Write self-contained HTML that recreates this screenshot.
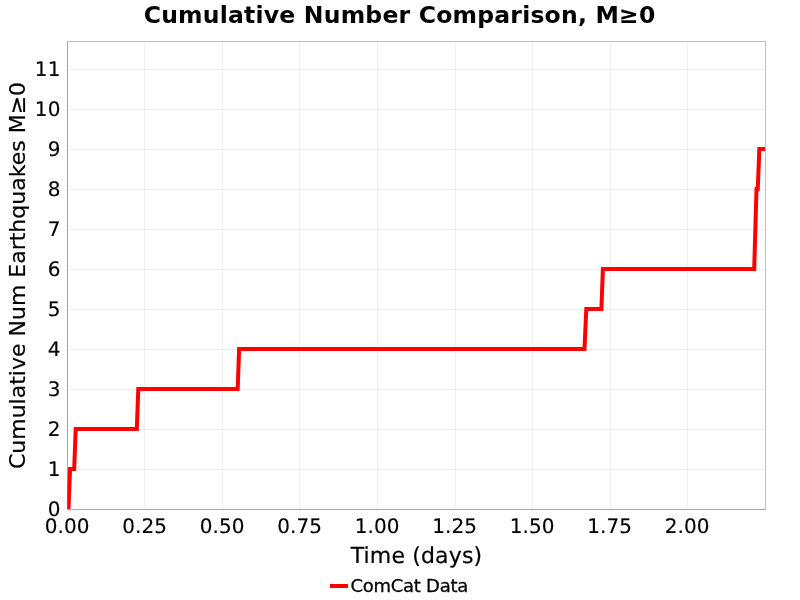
<!DOCTYPE html>
<html><head><meta charset="utf-8"><title>Cumulative Number Comparison</title>
<style>
html,body{margin:0;padding:0;background:#fff;}
body{width:800px;height:600px;overflow:hidden;font-family:"DejaVu Sans","Liberation Sans",sans-serif;}
svg{display:block;}
text{font-family:"DejaVu Sans","Liberation Sans",sans-serif;fill:#000;}
</style></head><body>
<svg width="800" height="600" viewBox="0 0 800 600">
<rect width="800" height="600" fill="#fff"/>
<defs><clipPath id="c"><rect x="67" y="41" width="698" height="468"/></clipPath></defs>
<g fill="#efefef" shape-rendering="crispEdges">
<rect x="144" y="42" width="1" height="467"/>
<rect x="222" y="42" width="1" height="467"/>
<rect x="299" y="42" width="1" height="467"/>
<rect x="377" y="42" width="1" height="467"/>
<rect x="455" y="42" width="1" height="467"/>
<rect x="532" y="42" width="1" height="467"/>
<rect x="610" y="42" width="1" height="467"/>
<rect x="687" y="42" width="1" height="467"/>
<rect x="68" y="469" width="697" height="1"/>
<rect x="68" y="429" width="697" height="1"/>
<rect x="68" y="389" width="697" height="1"/>
<rect x="68" y="349" width="697" height="1"/>
<rect x="68" y="309" width="697" height="1"/>
<rect x="68" y="269" width="697" height="1"/>
<rect x="68" y="229" width="697" height="1"/>
<rect x="68" y="189" width="697" height="1"/>
<rect x="68" y="149" width="697" height="1"/>
<rect x="68" y="109" width="697" height="1"/>
<rect x="68" y="69" width="697" height="1"/>
</g>
<g shape-rendering="crispEdges">
<rect x="67.5" y="41.5" width="698" height="468" fill="none" stroke="#c0c0c0" stroke-width="1"/>
<rect x="67" y="41" width="1" height="469" fill="#a6a6a6"/>
<rect x="67" y="509" width="699" height="1" fill="#a6a6a6"/>
</g>
<polyline clip-path="url(#c)" points="68.45,509.5 70.05,469 74.2,469 75.7,429 136.8,429 138.3,389 237.7,389 239.1,349 584.5,349 586.3,309 601.4,309 602.9,269 754.2,269 756.5,189 757.75,189 759.35,149 766,149" fill="none" stroke="#ff0000" stroke-width="4" stroke-linejoin="miter" stroke-linecap="butt"/>
<rect x="67" y="41" width="1" height="469" fill="#a6a6a6" fill-opacity="0.35" shape-rendering="crispEdges"/>
<text x="399.5" y="23.1" text-anchor="middle" font-size="23.5" font-weight="bold" textLength="511.6" lengthAdjust="spacing">Cumulative Number Comparison, M≥0</text>
<g font-size="20" letter-spacing="0.1" text-rendering="geometricPrecision" stroke="#000" stroke-width="0.15">
<text transform="translate(60.5,515.8)" text-anchor="end">0</text>
<text transform="translate(60.5,475.8)" text-anchor="end">1</text>
<text transform="translate(60.5,435.8)" text-anchor="end">2</text>
<text transform="translate(60.5,395.8)" text-anchor="end">3</text>
<text transform="translate(60.5,355.8)" text-anchor="end">4</text>
<text transform="translate(60.5,315.8)" text-anchor="end">5</text>
<text transform="translate(60.5,275.8)" text-anchor="end">6</text>
<text transform="translate(60.5,235.8)" text-anchor="end">7</text>
<text transform="translate(60.5,195.8)" text-anchor="end">8</text>
<text transform="translate(60.5,155.8)" text-anchor="end">9</text>
<text transform="translate(60.5,115.8)" text-anchor="end">10</text>
<text transform="translate(60.5,75.8)" text-anchor="end">11</text>
<text transform="translate(67.2,533)" text-anchor="middle">0.00</text>
<text transform="translate(144.7,533)" text-anchor="middle">0.25</text>
<text transform="translate(222.2,533)" text-anchor="middle">0.50</text>
<text transform="translate(299.7,533)" text-anchor="middle">0.75</text>
<text transform="translate(377.2,533)" text-anchor="middle">1.00</text>
<text transform="translate(454.7,533)" text-anchor="middle">1.25</text>
<text transform="translate(532.2,533)" text-anchor="middle">1.50</text>
<text transform="translate(609.7,533)" text-anchor="middle">1.75</text>
<text transform="translate(687.2,533)" text-anchor="middle">2.00</text>
</g>
<text x="416.4" y="562.8" text-anchor="middle" font-size="22" textLength="131.4" lengthAdjust="spacing" text-rendering="geometricPrecision" stroke="#000" stroke-width="0.2">Time (days)</text>
<text transform="translate(25,275.5) rotate(-90)" text-anchor="middle" font-size="22" stroke="#000" stroke-width="0.2">Cumulative Num Earthquakes M≥0</text>
<rect x="330" y="584" width="18" height="4" fill="#ff0000"/>
<text transform="translate(350.4,591.6) scale(1,0.95)" font-size="18" textLength="117.9" lengthAdjust="spacing" stroke="#000" stroke-width="0.3">ComCat Data</text>
</svg>
</body></html>
